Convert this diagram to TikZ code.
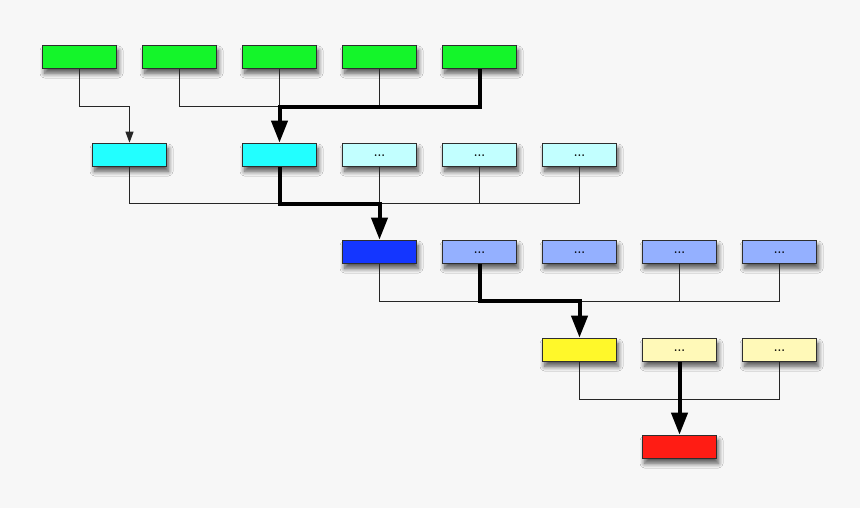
\documentclass[tikz,border=0pt]{standalone}
\usetikzlibrary{arrows.meta,shadows.blur}
\definecolor{bg}{HTML}{F7F7F7}
\definecolor{cgreen}{HTML}{14F52A}
\definecolor{ccyan}{HTML}{22FFFF}
\definecolor{clcyan}{HTML}{C2FFFF}
\definecolor{cblue}{HTML}{1436FF}
\definecolor{clblue}{HTML}{94B0FF}
\definecolor{cyellow}{HTML}{FFF82A}
\definecolor{clyellow}{HTML}{FFF9B8}
\definecolor{cred}{HTML}{FF1C14}
\definecolor{cborder}{HTML}{2E2E2E}
\tikzset{
  box/.style={draw=cborder, line width=1.6pt, minimum width=74pt, minimum height=23pt, inner sep=0pt,
    font=\large\bfseries, text height=3pt, text depth=0pt,
    blur shadow={shadow xshift=2pt, shadow yshift=-5pt, shadow blur steps=10, shadow opacity=65, shadow blur radius=4.5pt}},
  thinline/.style={line width=1pt, draw=black!85},
  thickline/.style={line width=4pt, draw=black},
  thinarrow/.style={thinline, -{Triangle[width=8pt,length=11pt]}},
  thickarrow/.style={thickline, -{Triangle[width=16pt,length=22pt]}},
}
\begin{document}
\begin{tikzpicture}[x=1pt,y=-1pt]
\fill[bg] (0,0) rectangle (860,508);
\useasboundingbox (0,0) rectangle (860,508);
% bus levels
\coordinate (bus1) at (0,107);
\coordinate (bus2) at (0,204);
\coordinate (bus3) at (0,301);
\coordinate (bus4) at (0,399);
% row 1
\foreach \i/\x in {0/79.5,1/179.5,2/279.5,3/379.5,4/479.5}
  \node[box, fill=cgreen] (g\i) at (\x,57) {};
% row 2
\node[box, fill=ccyan] (c0) at (129.5,155) {};
\node[box, fill=ccyan] (c1) at (279.5,155) {};
\node[box, fill=clcyan] (c2) at (379.5,155) {...};
\node[box, fill=clcyan] (c3) at (479.5,155) {...};
\node[box, fill=clcyan] (c4) at (579.5,155) {...};
% row 3
\node[box, fill=cblue] (b0) at (379.5,252) {};
\node[box, fill=clblue] (b1) at (479.5,252) {...};
\node[box, fill=clblue] (b2) at (579.5,252) {...};
\node[box, fill=clblue] (b3) at (679.5,252) {...};
\node[box, fill=clblue] (b4) at (779.5,252) {...};
% row 4
\node[box, fill=cyellow] (y0) at (579.5,350) {};
\node[box, fill=clyellow] (y1) at (679.5,350) {...};
\node[box, fill=clyellow] (y2) at (779.5,350) {...};
% row 5
\node[box, fill=cred] (r) at (679.5,447) {};

% level 1 -> 2
\draw[thinarrow] (g0.south) -- (g0.south |- bus1) -| (c0.north);
\draw[thinline] (g1.south) -- (g1.south |- bus1) -- (g2.south |- bus1);
\draw[thinline] (g2.south) -- (g2.south |- bus1);
\draw[thinline] (g3.south) -- (g3.south |- bus1);
\draw[thickarrow] (g4.south) -- (g4.south |- bus1) -| (c1.north);

% level 2 -> 3
\draw[thinline] (c0.south) -- (c0.south |- bus2) -- (c1.south |- bus2);
\draw[thinline] (c2.south) -- (c2.south |- bus2);
\draw[thinline] (c3.south) -- (c3.south |- bus2);
\draw[thinline] (c4.south) -- (c4.south |- bus2) -- (c2.south |- bus2);
\draw[thickarrow] (c1.south) -- (c1.south |- bus2) -| (b0.north);

% level 3 -> 4
\draw[thinline] (b0.south) -- (b0.south |- bus3) -- (b1.south |- bus3);
\draw[thinline] (b3.south) -- (b3.south |- bus3);
\draw[thinline] (b4.south) -- (b4.south |- bus3) -- (b2.south |- bus3);
\draw[thickarrow] (b1.south) -- (b1.south |- bus3) -| (y0.north);

% level 4 -> 5
\draw[thinline] (y0.south) -- (y0.south |- bus4) -- (y2.south |- bus4) -- (y2.south);
\draw[thickarrow] (y1.south) -- (r.north);
\end{tikzpicture}
\end{document}
